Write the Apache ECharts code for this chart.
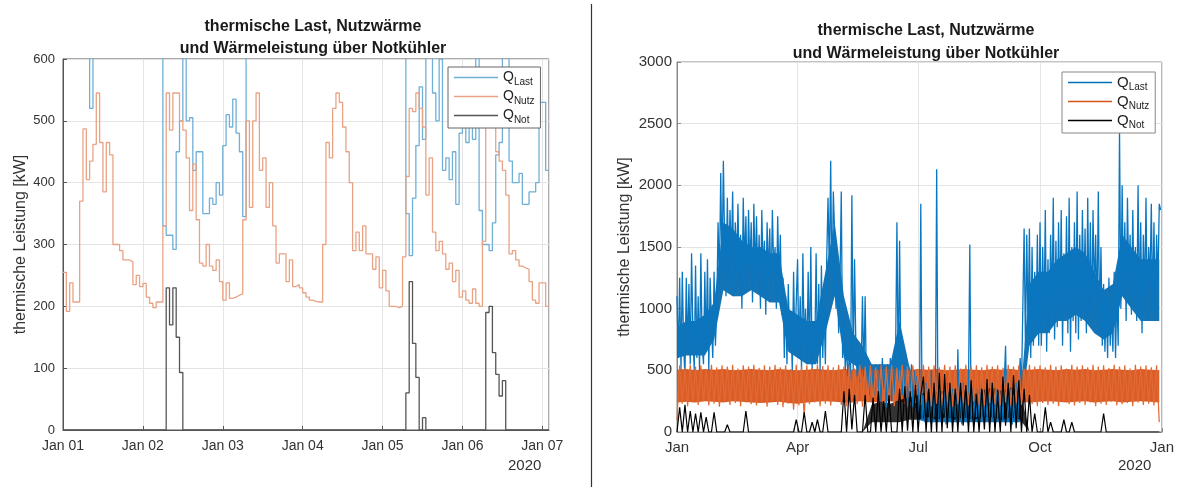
<!DOCTYPE html>
<html><head><meta charset="utf-8">
<script src="https://cdn.jsdelivr.net/npm/echarts@6/dist/echarts.min.js"></script>
<style>html,body{margin:0;padding:0;background:#fff}#c{width:1177px;height:487px}</style>
</head><body><div id="c"></div>
<script>
// ---------- LEFT PANEL: hourly values, Jan 01 00:00 .. Jan 07 02:00 ----------
const leftTickLabels = ['Jan 01','Jan 02','Jan 03','Jan 04','Jan 05','Jan 06','Jan 07'];
const leftNutz = [
 255,192,238,207,207,370,487,405,435,462,545,465,385,465,445,300,300,290,275,275,272,235,250,232,
 237,215,205,198,207,207,330,545,485,545,545,500,485,440,355,430,340,270,265,300,265,258,275,240,
 210,238,213,215,218,220,340,500,360,500,545,420,440,360,400,330,270,285,285,240,275,232,235,230,
 222,215,210,208,207,207,300,465,440,520,545,530,490,450,400,290,320,290,330,285,285,260,280,230,
 258,225,200,200,198,200,280,410,520,515,545,520,490,380,440,320,290,305,285,260,270,240,258,215,
 225,210,205,228,205,200,305,500,545,490,450,435,420,380,285,290,275,265,262,260,240,210,205,238,
 238,200,200];
const leftLast = [
 680,700,720,690,700,740,760,720,520,700,760,800,780,760,720,700,680,660,650,640,660,650,640,680,
 660,650,640,640,650,660,330,315,315,292,450,500,650,500,505,420,450,450,350,350,375,365,400,380,
 460,510,490,535,480,450,345,700,720,760,800,820,800,780,760,740,720,700,700,690,680,680,670,660,
 660,650,650,640,640,660,700,760,800,820,840,820,800,780,760,740,720,700,690,680,670,660,660,650,
 650,650,640,640,650,660,680,350,282,375,460,555,470,650,650,545,500,600,420,440,405,450,365,480,
 500,465,490,470,650,355,300,300,290,335,445,465,650,650,435,400,400,415,365,365,385,385,400,530,
 530,420,420];
const leftNot = [
 0,0,0,0,0,0,0,0,0,0,0,0,0,0,0,0,0,0,0,0,0,0,0,0,
 0,0,0,0,0,0,0,230,170,230,150,93,0,0,0,0,0,0,0,0,0,0,0,0,
 0,0,0,0,0,0,0,0,0,0,0,0,0,0,0,0,0,0,0,0,0,0,0,0,
 0,0,0,0,0,0,0,0,0,0,0,0,0,0,0,0,0,0,0,0,0,0,0,0,
 0,0,0,0,0,0,0,60,240,140,85,0,20,0,0,0,0,0,0,0,0,0,0,0,
 0,0,0,0,0,0,0,190,200,125,90,55,80,0,0,0,0,0,0,0,0,0,0,0,
 0,0,0];

// ---------- RIGHT PANEL (year 2020) ----------
const rightTickDays = [0, 91, 182, 274, 366];
const rightTickLabels = ['Jan','Apr','Jul','Oct','Jan'];
// Q_Last: one reading per day, Jan 1 .. Dec 31
const rightLast = [
 1100,600,1250,500,1300,700,450,1250,650,1200,550,1450,800,500,1350,600,1100,500,1450,700,550,1300,650,1400,500,1250,900,600,1300,700,1000,
 1700,1200,2100,1300,2200,1500,1100,1900,1250,1800,1400,1950,1100,1700,1300,1850,1200,1600,1000,1900,1350,1750,1150,1800,1300,1700,1050,1850,1250,
 1750,1200,1600,1000,1800,1300,1550,950,1700,1250,1650,1100,1800,1300,1500,1000,1750,1200,1600,950,1250,600,1100,550,1200,700,950,500,1300,650,1050,
 1400,600,1100,500,1450,700,1000,550,1300,600,1500,500,900,650,1450,550,1200,500,1350,600,1000,550,1400,1900,1300,2200,1100,1950,1600,1000,
 1400,800,1200,1950,600,900,500,700,450,600,400,1920,500,1400,700,450,600,400,500,1100,450,1100,350,600,300,550,350,500,300,550,400,
 300,550,250,600,350,500,200,550,300,600,250,500,300,650,1700,400,1550,500,300,600,250,500,200,450,300,550,200,500,300,450,
 400,150,1850,100,300,80,400,150,350,100,500,80,300,120,2130,100,450,80,300,150,350,60,400,100,300,80,350,120,300,80,670,
 100,350,60,400,120,300,80,350,1520,100,400,80,300,120,350,60,400,100,300,80,350,100,300,60,400,120,300,80,350,100,300,
 80,350,100,400,700,80,300,100,350,60,300,100,400,80,300,600,350,1000,1650,700,1600,800,1650,600,1500,700,1300,800,1600,700,
 1700,700,1500,900,1800,650,1400,800,1600,1000,1900,750,1550,850,1700,900,1800,700,1450,950,1750,800,1900,650,1500,900,1700,800,1950,750,1600,
 900,1800,1000,1650,800,1900,950,1700,850,1800,1100,1600,900,1950,800,1500,700,1200,650,1100,600,1250,700,1000,650,1300,600,1150,700,2450,
 1000,2000,1100,1700,900,1900,1200,1600,950,1800,1100,1500,900,2000,1000,1700,800,1600,1100,1900,900,1500,1200,1850,1000,1700,900,1600,1200,1850,1800];
// Q_Nutz and Q_Not: one reading every 2 days
const rightNutz = [
 100,540,230,520,210,545,240,530,220,540,250,510,215,545,230,525,205,540,245,530,
 220,545,235,515,210,540,240,530,225,545,215,520,235,540,205,530,245,545,220,525,
 200,540,230,510,180,545,215,530,120,540,225,520,240,545,210,535,230,540,215,525,
 245,545,220,530,210,540,235,515,225,545,205,530,240,540,220,525,235,545,215,530,
 230,540,210,520,245,545,225,530,215,540,235,510,220,545,240,530,210,540,230,525,
 220,545,240,530,205,540,225,515,235,545,215,530,245,540,220,525,210,545,235,530,
 225,540,215,520,240,545,210,530,230,540,220,515,245,545,225,530,210,540,235,525,
 220,545,230,530,210,540,245,515,225,545,215,530,235,540,220,525,240,545,210,530,
 230,540,220,520,245,545,215,530,225,540,235,515,210,545,240,530,220,540,230,525,
 215,540,80];
const rightNot = [
 0,200,0,220,0,170,0,150,0,160,0,120,0,0,160,0,0,0,0,60,
 0,0,0,0,0,0,170,0,0,0,0,0,0,0,0,0,0,0,0,0,
 0,0,0,0,0,100,0,0,160,0,0,80,0,100,0,0,170,0,0,0,
 0,0,0,330,0,350,20,300,0,0,0,300,0,0,280,0,330,0,250,0,
 300,0,0,0,350,0,370,10,330,0,380,0,300,450,0,350,0,400,0,480,
 0,470,30,400,0,350,0,400,50,380,0,420,0,300,0,350,20,430,0,400,
 0,300,0,450,50,400,0,460,30,420,0,350,0,300,0,150,0,0,0,200,
 0,80,0,0,0,0,100,0,0,80,0,0,0,0,0,0,0,0,0,0,
 0,150,0,0,0,0,0,0,0,0,0,0,0,0,0,0,0,0,0,0,0,0,0];

// weekly envelope of the dense core of each hourly band (one value per 7 days)
const rightLastLo = [600,620,620,620,750,1150,1100,1100,1150,1100,1050,1050,650,600,550,550,800,1100,600,550,500,450,450,450,500,450,100,80,80,80,80,80,80,80,80,80,80,80,700,800,800,900,900,950,900,800,750,800,1100,1000,900,900,900];
const rightLastHi = [850,900,900,950,1050,1700,1650,1550,1500,1500,1450,1450,1000,950,900,900,1300,1700,1100,800,700,550,550,550,900,550,300,250,250,250,250,250,250,250,250,250,250,250,1200,1300,1300,1400,1450,1500,1450,1300,1150,1200,1600,1500,1400,1400,1400];
const rightNutzLo = [240,245,240,250,245,240,250,245,240,235,240,245,235,230,240,245,250,245,240,245,250,240,245,250,240,245,250,240,245,250,245,240,245,250,240,245,250,245,240,245,250,245,240,245,250,240,245,250,240,245,250,245,240];
const rightNutzHi = [505,510,500,510,505,510,500,505,510,505,500,510,505,500,505,510,505,500,510,505,510,500,505,510,505,500,510,505,510,500,505,510,505,500,510,505,510,500,505,510,505,500,510,505,510,500,505,510,505,500,510,505,500];
const rightNotLo = [0,0,0,0,0,0,0,0,0,0,0,0,0,0,0,0,0,0,0,0,0,80,80,80,80,100,100,120,100,120,100,120,100,120,120,100,120,100,0,0,0,0,0,0,0,0,0,0,0,0,0,0,0];
const rightNotHi = [0,0,0,0,0,0,0,0,0,0,0,0,0,0,0,0,0,0,0,0,0,220,250,230,260,280,300,330,320,340,300,340,300,340,360,330,360,330,0,0,0,0,0,0,0,0,0,0,0,0,0,0,0];

const seriesNames = ['Last','Nutz','Not'];
const titleText = 'thermische Last, Nutzwärme\nund Wärmeleistung über Notkühler';
const yName = 'thermische Leistung [kW]';

const FONT = '"Liberation Sans", Arial, Helvetica, sans-serif';
const hourly = arr => arr.map((v, h) => [h, v]);
const daily = arr => arr.map((v, d) => [d, v]);
const twoDay = arr => arr.map((v, i) => [i * 2, v]);
const weekly = (lo, hi) => lo.map((v, i) => [i * 7, v, hi[i]]);

function bandSeries(lo, hi, color, opacity){
  const rows = weekly(lo, hi);
  return {
    type:'custom', xAxisIndex:1, yAxisIndex:1, clip:true, silent:true,
    data: rows, encode:{x:0, y:[1,2]},
    renderItem: function(params, api){
      if (params.dataIndex !== 0) return null;
      const pts = [];
      for (let i = 0; i < rows.length; i++) pts.push(api.coord([rows[i][0], rows[i][2]]));
      for (let i = rows.length - 1; i >= 0; i--) pts.push(api.coord([rows[i][0], rows[i][1]]));
      return {type:'polygon', shape:{points:pts}, style:{fill:color, opacity:opacity}};
    }
  };
}

function axisCommon(borderColor, fs){
  return {
    axisLine:{show:true, lineStyle:{color:borderColor, width:1}},
    axisTick:{show:true, inside:true, length:4, lineStyle:{color:borderColor}},
    splitLine:{show:true, lineStyle:{color:'#e4e4e4', width:1}},
    axisLabel:{color:'#333', fontSize:fs, fontFamily:FONT}
  };
}

function legendCfg(prefix, left, top, border, fs){
  return {
    data: seriesNames.map(n => prefix + n),
    orient:'vertical', left:left, top:top,
    icon:'rect', itemWidth:44, itemHeight:1.6, itemGap:1,
    borderColor:border, borderWidth:1, backgroundColor:'#fff',
    padding:[2,6,3,6],
    formatter: n => 'Q{s|' + n.split('_')[1] + '}',
    textStyle:{fontSize:fs, fontFamily:FONT, color:'#222', lineHeight:17,
      rich:{s:{fontSize:10, fontFamily:FONT, color:'#222', padding:[9,0,0,0]}}},
    selectedMode:false
  };
}

const chart = echarts.init(document.getElementById('c'), null, {renderer:'canvas'});
const xa0 = axisCommon('#555', 14);
const ya0 = axisCommon('#555', 13);
const xa1 = axisCommon('#888', 15);
const ya1 = axisCommon('#888', 15);

chart.setOption({
  animation:false,
  backgroundColor:'#fff',
  title:[
    {text:titleText, left:308, top:11, textAlign:'center',
     textStyle:{fontSize:16, fontWeight:'bold', fontFamily:FONT, color:'#1a1a1a', lineHeight:22}},
    {text:titleText, left:921, top:14, textAlign:'center',
     textStyle:{fontSize:16, fontWeight:'bold', fontFamily:FONT, color:'#1a1a1a', lineHeight:23}}
  ],
  grid:[
    {left:63, top:59, width:486, height:371, show:true, borderColor:'#555', borderWidth:1, backgroundColor:'transparent'},
    {left:677, top:62, width:486, height:370, show:true, borderColor:'#888', borderWidth:1, backgroundColor:'transparent'}
  ],
  xAxis:[
    Object.assign({}, xa0, {gridIndex:0, type:'value', min:0, max:146, interval:24,
      axisLabel:Object.assign({}, xa0.axisLabel, {margin:9, showMaxLabel:false,
        formatter: v => (v % 24 === 0 ? leftTickLabels[v/24] : '')})}),
    Object.assign({}, xa1, {gridIndex:1, type:'value', min:0, max:366,
      axisTick:Object.assign({}, xa1.axisTick, {customValues:rightTickDays}),
      axisLabel:Object.assign({}, xa1.axisLabel, {margin:8, customValues:rightTickDays,
        formatter: v => rightTickLabels[rightTickDays.indexOf(v)]})})
  ],
  yAxis:[
    Object.assign({}, ya0, {gridIndex:0, type:'value', min:0, max:600, interval:100,
      axisLabel:Object.assign({}, ya0.axisLabel, {margin:8, formatter: v => String(v)}),
      name:yName, nameLocation:'middle', nameGap:34,
      nameTextStyle:{fontSize:16, fontFamily:FONT, color:'#333'}}),
    Object.assign({}, ya1, {gridIndex:1, type:'value', min:0, max:3000, interval:500,
      axisLabel:Object.assign({}, ya1.axisLabel, {margin:5, formatter: v => String(v)}),
      name:yName, nameLocation:'middle', nameGap:44,
      nameTextStyle:{fontSize:16, fontFamily:FONT, color:'#333'}})
  ],
  legend:[ legendCfg('L_', 448, 67, '#666', 14), legendCfg('R_', 1062, 72, '#888', 15) ],
  graphic:[
    {type:'line', shape:{x1:591.5, y1:4, x2:591.5, y2:487}, style:{stroke:'#333', lineWidth:1.2}},
    {type:'text', left:508, top:458, style:{text:'2020', fontSize:15, fontFamily:FONT, fill:'#333'}},
    {type:'text', left:1118, top:458, style:{text:'2020', fontSize:15, fontFamily:FONT, fill:'#333'}}
  ],
  series:[
    {name:'L_Last', type:'line', xAxisIndex:0, yAxisIndex:0, step:'end', showSymbol:false, symbol:'none',
     data:hourly(leftLast), lineStyle:{color:'#70AFD6', width:1.3}, itemStyle:{color:'#70AFD6'}},
    {name:'L_Nutz', type:'line', xAxisIndex:0, yAxisIndex:0, step:'end', showSymbol:false, symbol:'none',
     data:hourly(leftNutz), lineStyle:{color:'#E9A384', width:1.3}, itemStyle:{color:'#E9A384'}},
    {name:'L_Not', type:'line', xAxisIndex:0, yAxisIndex:0, step:'end', showSymbol:false, symbol:'none',
     data:hourly(leftNot), lineStyle:{color:'#555555', width:1.3}, itemStyle:{color:'#555555'}},

    bandSeries(rightLastLo, rightLastHi, '#0068B0', 0.92),
    {name:'R_Last', type:'line', xAxisIndex:1, yAxisIndex:1, showSymbol:false, symbol:'none',
     data:daily(rightLast), lineStyle:{color:'#0a76c0', width:1.3}, itemStyle:{color:'#0072BD'}},
    bandSeries(rightNutzLo, rightNutzHi, '#D95319', 0.95),
    {name:'R_Nutz', type:'line', xAxisIndex:1, yAxisIndex:1, showSymbol:false, symbol:'none',
     data:twoDay(rightNutz), lineStyle:{color:'#E06A35', width:1.2}, itemStyle:{color:'#D95319'}},
    bandSeries(rightNotLo, rightNotHi, '#000000', 0.8),
    {name:'R_Not', type:'line', xAxisIndex:1, yAxisIndex:1, showSymbol:false, symbol:'none',
     data:twoDay(rightNot), lineStyle:{color:'#000000', width:1.2}, itemStyle:{color:'#000000'}}
  ]
});
</script></body></html>
